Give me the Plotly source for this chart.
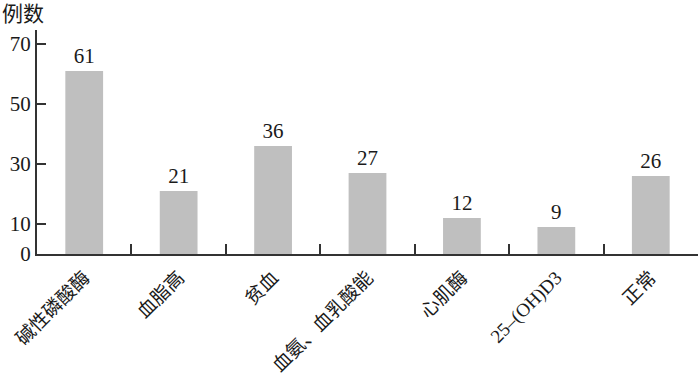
import plotly.graph_objects as go

categories = ["碱性磷酸酶", "血脂高", "贫血", "血氨、血乳酸能", "心肌酶", "25–(OH)D3", "正常"]
counts = [61, 21, 36, 27, 12, 9, 26]
y_ticks = [0, 10, 30, 50, 70]

FONT = "Liberation Serif, Noto Sans CJK SC, serif"

fig = go.Figure()
fig.add_trace(go.Bar(
    x=list(range(len(categories))),
    y=counts,
    width=0.4,
    marker=dict(color="#bfbfbf", line=dict(width=0)),
    text=[str(v) for v in counts],
    textposition="outside",
    textfont=dict(family=FONT, size=21, color="#1a1a1a"),
    cliponaxis=False,
))

# separator ticks between categories on an overlaid axis
fig.add_trace(go.Scatter(x=[0], y=[0], xaxis="x2", mode="markers",
                         marker=dict(opacity=0), hoverinfo="skip", showlegend=False))

fig.update_layout(
    width=700, height=381,
    margin=dict(l=37, r=2, t=30, b=127),
    paper_bgcolor="white", plot_bgcolor="white",
    showlegend=False,
    bargap=0.6,
    font=dict(family=FONT, color="#1a1a1a"),
    xaxis=dict(
        range=[-0.5, len(categories) - 0.5],
        tickmode="array",
        tickvals=list(range(len(categories))),
        ticktext=categories,
        tickangle=-45,
        ticks="",
        ticklabelstandoff=3,
        automargin=False,
        showline=True, linecolor="#333333", linewidth=2,
        showgrid=False, zeroline=False,
        tickfont=dict(family=FONT, size=19, color="#1a1a1a"),
    ),
    xaxis2=dict(
        overlaying="x",
        range=[-0.5, len(categories) - 0.5],
        tickmode="array",
        tickvals=[i + 0.5 for i in range(len(categories) - 1)],
        showticklabels=False,
        ticks="inside", ticklen=10, tickwidth=2, tickcolor="#333333",
        showgrid=False, zeroline=False, showline=False,
        side="bottom", automargin=False,
    ),
    yaxis=dict(
        range=[0, 74.7],
        tickmode="array",
        tickvals=y_ticks,
        ticktext=[str(v) for v in y_ticks],
        ticks="inside", ticklen=9, tickwidth=2, tickcolor="#333333",
        automargin=False,
        showline=True, linecolor="#333333", linewidth=2,
        showgrid=False, zeroline=False,
        tickfont=dict(family=FONT, size=21, color="#1a1a1a"),
    ),
    annotations=[dict(
        text="例数", xref="paper", yref="paper",
        x=-37 / 661, y=1 + 16 / 224,
        xanchor="left", yanchor="middle",
        showarrow=False,
        font=dict(family=FONT, size=21, color="#1a1a1a"),
    )],
)

fig.write_html("out.html")
